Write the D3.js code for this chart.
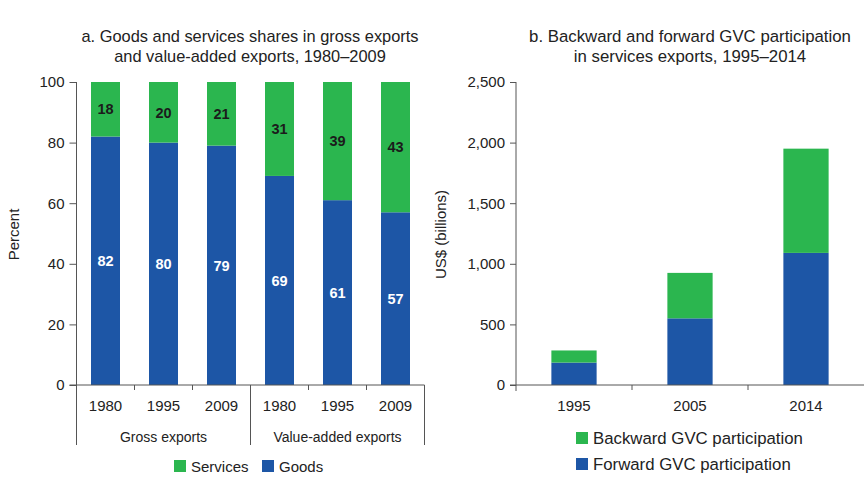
<!DOCTYPE html>
<html>
<head>
<meta charset="utf-8">
<script src="https://cdn.jsdelivr.net/npm/d3@7/dist/d3.min.js"></script>
<style>
  html, body { margin: 0; padding: 0; background: #fff; }
  svg { display: block; font-family: "Liberation Sans", Arial, sans-serif; }
  .axis path, .axis line { stroke: #555; }
  .axis text { fill: #222; font-size: 15px; font-family: "Liberation Sans", Arial, sans-serif; }
</style>
</head>
<body>
<svg id="chart" width="867" height="477"></svg>
<script>
// Panel a: goods vs services shares (percent)
const panelACategories = ["1980", "1995", "2009", "1980", "1995", "2009"];
const panelAGroups = ["Gross exports", "Value-added exports"];
const goodsShare = [82, 80, 79, 69, 61, 57];
const servicesShare = [18, 20, 21, 31, 39, 43];
const percentTicks = [0, 20, 40, 60, 80, 100];

// Panel b: GVC participation in services exports (US$ billions)
const panelBYears = ["1995", "2005", "2014"];
const forwardGVC = [185, 550, 1090];
const backwardGVC = [100, 375, 860];
const usdTicks = [0, 500, 1000, 1500, 2000, 2500];

const GREEN = "#2bb64f";
const BLUE = "#1d56a6";
const TEXT = "#222";

const svg = d3.select("#chart");

// ---------- Panel a ----------
const aLeft = 76.5, aRight = 424.5, plotTop = 82, plotBottom = 385;

const xA = d3.scaleBand()
  .domain(d3.range(panelACategories.length))
  .range([aLeft, aRight])
  .paddingInner(0.5)
  .paddingOuter(0.25);

const yA = d3.scaleLinear().domain([0, 100]).range([plotBottom, plotTop]);

const rowsA = panelACategories.map((c, i) => ({
  i, year: c, goods: goodsShare[i], services: servicesShare[i]
}));

const gA = svg.append("g");

// goods (bottom) segments
gA.selectAll("rect.goods").data(rowsA).join("rect")
  .attr("class", "goods")
  .attr("x", d => xA(d.i))
  .attr("width", xA.bandwidth())
  .attr("y", d => yA(d.goods))
  .attr("height", d => yA(0) - yA(d.goods))
  .attr("fill", BLUE);

// services (top) segments
gA.selectAll("rect.services").data(rowsA).join("rect")
  .attr("class", "services")
  .attr("x", d => xA(d.i))
  .attr("width", xA.bandwidth())
  .attr("y", d => yA(d.goods + d.services))
  .attr("height", d => yA(d.goods) - yA(d.goods + d.services))
  .attr("fill", GREEN);

// value labels
gA.selectAll("text.goodsLbl").data(rowsA).join("text")
  .attr("x", d => xA(d.i) + xA.bandwidth() / 2)
  .attr("y", d => (yA(0) + yA(d.goods)) / 2)
  .attr("dy", "0.36em")
  .attr("text-anchor", "middle")
  .attr("fill", "#fff")
  .attr("font-size", 14.5)
  .attr("font-weight", "bold")
  .text(d => d.goods);

gA.selectAll("text.servLbl").data(rowsA).join("text")
  .attr("x", d => xA(d.i) + xA.bandwidth() / 2)
  .attr("y", d => (yA(d.goods) + yA(d.goods + d.services)) / 2)
  .attr("dy", "0.36em")
  .attr("text-anchor", "middle")
  .attr("fill", "#1b1b1b")
  .attr("font-size", 14.5)
  .attr("font-weight", "bold")
  .text(d => d.services);

// y axis
gA.append("g")
  .attr("class", "axis")
  .attr("transform", `translate(${aLeft},0)`)
  .call(d3.axisLeft(yA).tickValues(percentTicks).tickSize(7).tickPadding(5))
  .call(g => g.select(".domain").remove());

gA.append("line")
  .attr("x1", aLeft).attr("x2", aLeft)
  .attr("y1", plotTop).attr("y2", 445)
  .attr("stroke", "#555");

// x axis baseline with ticks at band boundaries
gA.append("line")
  .attr("x1", aLeft - 7).attr("x2", aRight)
  .attr("y1", plotBottom).attr("y2", plotBottom)
  .attr("stroke", "#555");

const bandEdges = d3.range(1, panelACategories.length).map(i => xA(i) - xA.step() * xA.paddingInner() / 2);
gA.selectAll("line.xtick").data(bandEdges).join("line")
  .attr("x1", d => d).attr("x2", d => d)
  .attr("y1", plotBottom).attr("y2", plotBottom + 5)
  .attr("stroke", "#555");

gA.selectAll("text.xlbl").data(rowsA).join("text")
  .attr("x", d => xA(d.i) + xA.bandwidth() / 2)
  .attr("y", 411)
  .attr("text-anchor", "middle")
  .attr("fill", TEXT)
  .attr("font-size", 15)
  .text(d => d.year);

// group dividers and labels
const perGroup = panelACategories.length / panelAGroups.length;
const groupEdges = d3.range(panelAGroups.length + 1).map(k =>
  k === 0 ? aLeft : k === panelAGroups.length ? aRight : bandEdges[k * perGroup - 1]);
gA.selectAll("line.group").data(groupEdges.slice(1)).join("line")
  .attr("x1", d => d).attr("x2", d => d)
  .attr("y1", plotBottom).attr("y2", 445)
  .attr("stroke", "#555");

gA.selectAll("text.group").data(panelAGroups).join("text")
  .attr("x", (d, k) => (groupEdges[k] + groupEdges[k + 1]) / 2)
  .attr("y", 442)
  .attr("text-anchor", "middle")
  .attr("fill", TEXT)
  .attr("font-size", 14)
  .text(d => d);

// y title
gA.append("text")
  .attr("transform", `translate(19,${(plotTop + plotBottom) / 2 + 1}) rotate(-90)`)
  .attr("text-anchor", "middle")
  .attr("fill", TEXT)
  .attr("font-size", 15)
  .text("Percent");

// title
const titleA = gA.append("text")
  .attr("text-anchor", "middle")
  .attr("fill", TEXT)
  .attr("font-size", 16.4);
titleA.append("tspan").attr("x", 250).attr("y", 42).text("a. Goods and services shares in gross exports");
titleA.append("tspan").attr("x", 250).attr("y", 62).text("and value-added exports, 1980\u20132009");

// legend
const legendA = [{ name: "Services", color: GREEN }, { name: "Goods", color: BLUE }];
const legAX = [174, 262];
const lgA = gA.selectAll("g.leg").data(legendA).join("g")
  .attr("transform", (d, i) => `translate(${legAX[i]},460)`);
lgA.append("rect").attr("width", 12).attr("height", 12).attr("fill", d => d.color);
lgA.append("text").attr("x", 17).attr("y", 11.5)
  .attr("fill", TEXT).attr("font-size", 15).text(d => d.name);

// ---------- Panel b ----------
const bLeft = 516, bRight = 864;

const xB = d3.scaleBand()
  .domain(panelBYears)
  .range([bLeft, bRight])
  .paddingInner(0.61)
  .paddingOuter(0.305);

const yB = d3.scaleLinear().domain([0, 2500]).range([plotBottom, plotTop]);

const rowsB = panelBYears.map((y, i) => ({ year: y, fwd: forwardGVC[i], bwd: backwardGVC[i] }));

const gB = svg.append("g");

gB.selectAll("rect.fwd").data(rowsB).join("rect")
  .attr("x", d => xB(d.year))
  .attr("width", xB.bandwidth())
  .attr("y", d => yB(d.fwd))
  .attr("height", d => yB(0) - yB(d.fwd))
  .attr("fill", BLUE);

gB.selectAll("rect.bwd").data(rowsB).join("rect")
  .attr("x", d => xB(d.year))
  .attr("width", xB.bandwidth())
  .attr("y", d => yB(d.fwd + d.bwd))
  .attr("height", d => yB(d.fwd) - yB(d.fwd + d.bwd))
  .attr("fill", GREEN);

gB.append("g")
  .attr("class", "axis")
  .attr("transform", `translate(${bLeft},0)`)
  .call(d3.axisLeft(yB).tickValues(usdTicks).tickFormat(d3.format(",")).tickSize(6).tickPadding(5))
  .call(g => g.select(".domain").remove());

gB.append("line")
  .attr("x1", bLeft).attr("x2", bLeft)
  .attr("y1", plotTop).attr("y2", 391)
  .attr("stroke", "#555");

gB.append("line")
  .attr("x1", bLeft - 6).attr("x2", bRight)
  .attr("y1", plotBottom).attr("y2", plotBottom)
  .attr("stroke", "#555");

const bEdges = panelBYears.slice(1).map(y => xB(y) - xB.step() * xB.paddingInner() / 2);
gB.selectAll("line.xtick").data(bEdges).join("line")
  .attr("x1", d => d).attr("x2", d => d)
  .attr("y1", plotBottom).attr("y2", plotBottom + 5)
  .attr("stroke", "#555");

gB.selectAll("text.xlbl").data(rowsB).join("text")
  .attr("x", d => xB(d.year) + xB.bandwidth() / 2)
  .attr("y", 411)
  .attr("text-anchor", "middle")
  .attr("fill", TEXT)
  .attr("font-size", 15)
  .text(d => d.year);

gB.append("text")
  .attr("transform", `translate(446,${(plotTop + plotBottom) / 2 + 1}) rotate(-90)`)
  .attr("text-anchor", "middle")
  .attr("fill", TEXT)
  .attr("font-size", 15)
  .text("US$ (billions)");

const titleB = gB.append("text")
  .attr("text-anchor", "middle")
  .attr("fill", TEXT)
  .attr("font-size", 16.8);
titleB.append("tspan").attr("x", 690).attr("y", 42).text("b. Backward and forward GVC participation");
titleB.append("tspan").attr("x", 690).attr("y", 62).text("in services exports, 1995\u20132014");

const legendB = [
  { name: "Backward GVC participation", color: GREEN },
  { name: "Forward GVC participation", color: BLUE }
];
const lgB = gB.selectAll("g.leg").data(legendB).join("g")
  .attr("transform", (d, i) => `translate(576,${432 + i * 26})`);
lgB.append("rect").attr("width", 12).attr("height", 12).attr("fill", d => d.color);
lgB.append("text").attr("x", 17).attr("y", 11.5)
  .attr("fill", TEXT).attr("font-size", 16.8).text(d => d.name);
</script>
</body>
</html>
